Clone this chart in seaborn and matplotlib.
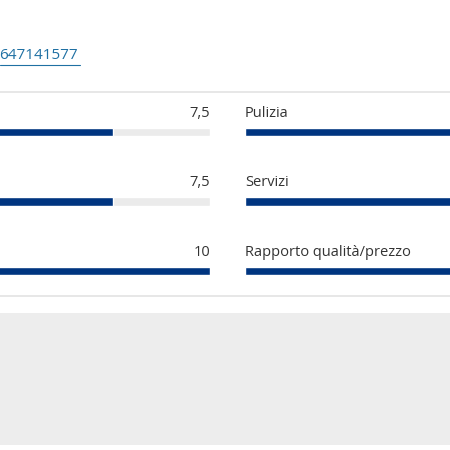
import matplotlib
matplotlib.use("Agg")
import matplotlib.pyplot as plt
import seaborn as sns
import pandas as pd
from matplotlib.patches import Rectangle
from matplotlib.lines import Line2D

# ---- data ----
left_categories = ["Personale", "Comfort", "Posizione"]
left_values = [7.5, 7.5, 10]
right_categories = ["Pulizia", "Servizi", "Rapporto qualità/prezzo"]
right_values = [10, 10, 10]
max_score = 10
link_text = "647141577"

sns.set_theme(style="white")
plt.rcParams["font.family"] = ["Open Sans", "DejaVu Sans"]

W = H = 450
fig = plt.figure(figsize=(4.5, 4.5), dpi=100)
fig.patch.set_facecolor("white")

def fx(x):
    return x / W

def fy(y):
    return 1 - y / H

BLUE = "#003580"
TRACK = "#ebebeb"
TEXT = "#333333"
FS = 10.5

# page decorations
fig.add_artist(Line2D([0, 1], [fy(92), fy(92)], color="#e3e3e3", lw=1.2))
fig.add_artist(Line2D([0, 1], [fy(296), fy(296)], color="#e3e3e3", lw=1.2))
fig.add_artist(Rectangle((0, fy(445)), 1, (445 - 313) / H, transform=fig.transFigure,
                         facecolor="#ededed", edgecolor="none"))

# link text
fig.text(fx(78), fy(55.5), link_text, ha="right", va="center", color="#1f70a3",
         fontsize=11)
fig.add_artist(Line2D([0, fx(80)], [fy(64.5), fy(64.5)], color="#1f70a3", lw=0.8))

row_h = 69.5
top = 132 - row_h / 2
col_w = 388
bar_w = 8.5 / row_h


def draw_column(left_px, cats, vals):
    ax = fig.add_axes([fx(left_px), fy(top + 3 * row_h), col_w / W, 3 * row_h / H])
    df = pd.DataFrame({"cat": cats, "val": vals, "max": [max_score] * len(cats)})
    sns.barplot(data=df, x="max", y="cat", orient="h", color=TRACK, width=bar_w,
                saturation=1, ax=ax, errorbar=None)
    sns.barplot(data=df, x="val", y="cat", orient="h", color=BLUE, width=bar_w,
                saturation=1, ax=ax, errorbar=None)
    ax.set_xlim(0, max_score)
    ax.set_ylim(2.5, -0.5)
    ax.axis("off")
    for i, (c, v) in enumerate(zip(cats, vals)):
        ax.text(0, i - 0.27, c, ha="left", va="center", color=TEXT, fontsize=FS)
        ax.text(max_score, i - 0.27, f"{v:g}".replace(".", ","), ha="right",
                va="center", color=TEXT, fontsize=FS)
    return ax


draw_column(210 - col_w, left_categories, left_values)
draw_column(245, right_categories, right_values)

fig.savefig("out.png", dpi=100)
